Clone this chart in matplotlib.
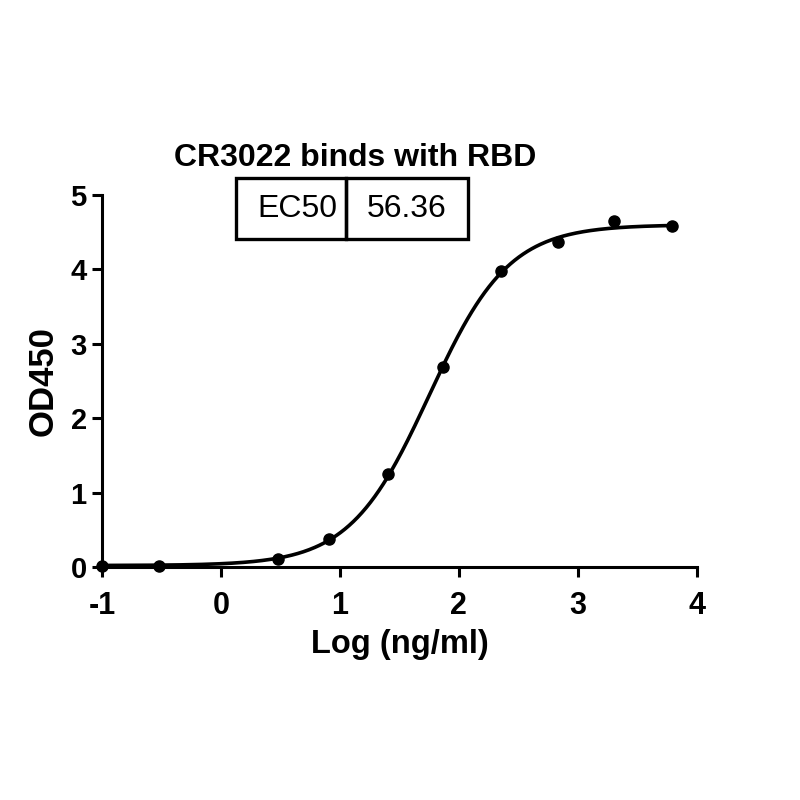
import numpy as np
import matplotlib
matplotlib.use("Agg")
import matplotlib.pyplot as plt
from matplotlib.patches import Rectangle

plt.rcParams['font.family'] = ['Liberation Sans', 'DejaVu Sans']

# Data (log concentration, OD450)
log_conc = [-1.0, -0.52, 0.48, 0.905, 1.40, 1.87, 2.35, 2.83, 3.30, 3.79]
od450 = [0.013, 0.013, 0.108, 0.376, 1.246, 2.69, 3.98, 4.37, 4.65, 4.59]

# 4PL fit parameters
fit_bottom = 0.02
fit_top = 4.60
fit_ec50 = 56.36
fit_hill = 1.3

title = "CR3022 binds with RBD"
xlabel = "Log (ng/ml)"
ylabel = "OD450"
xticks = [-1, 0, 1, 2, 3, 4]
yticks = [0, 1, 2, 3, 4, 5]

fig = plt.figure(figsize=(8, 8), dpi=100)
ax = fig.add_axes([0.1275, 0.29125, 0.871 - 0.1275, 0.75625 - 0.29125])

xf = np.linspace(min(log_conc), max(log_conc), 400)
yf = fit_bottom + (fit_top - fit_bottom) / (1 + 10 ** ((np.log10(fit_ec50) - xf) * fit_hill))
ax.plot(xf, yf, color='black', lw=2.6, solid_capstyle='round', zorder=3)
ax.plot(log_conc, od450, 'o', color='black', ms=8, zorder=4, clip_on=False)

ax.set_xlim(-1, 4)
ax.set_ylim(0, 5)
ax.set_xticks(xticks)
ax.set_yticks(yticks)
ax.set_xticklabels([str(t) for t in xticks], fontsize=22, fontweight='bold')
ax.set_yticklabels([str(t) for t in yticks], fontsize=21, fontweight='bold')
for s in ['top', 'right']:
    ax.spines[s].set_visible(False)
for s in ['left', 'bottom']:
    ax.spines[s].set_linewidth(2.2)
ax.tick_params(direction='out', length=7, width=2.2)
ax.tick_params(axis='x', pad=10)
ax.tick_params(axis='y', pad=4)
ax.set_xlabel(xlabel, fontsize=23.5, fontweight='bold', labelpad=6)
ax.set_ylabel(ylabel, fontsize=25, fontweight='bold', labelpad=8)

# Title
fig.text(355 / 800, 1 - 158 / 800, title, ha='center', va='center', fontsize=23, fontweight='bold')

# EC50 box (figure pixel coordinates converted to fraction)
def fx(px):
    return px / 800
def fy(py):
    return 1 - py / 800

box_l, box_m, box_r = 236, 346, 468
box_t, box_b = 178, 239
for l, r in [(box_l, box_m), (box_m, box_r)]:
    fig.add_artist(Rectangle((fx(l), fy(box_b)), fx(r) - fx(l), fy(box_t) - fy(box_b),
                             transform=fig.transFigure, fill=False, lw=2.4, edgecolor='black'))
fig.text(fx(297), fy(209), "EC50", ha='center', va='center', fontsize=23)
fig.text(fx(407), fy(209), f"{fit_ec50:.2f}", ha='center', va='center', fontsize=23)

fig.savefig("out.png", dpi=100)
